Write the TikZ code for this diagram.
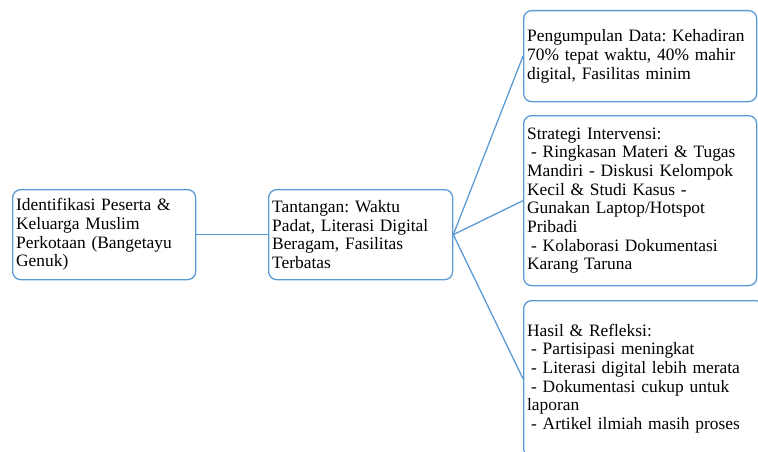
\documentclass[tikz,border=0pt]{standalone}
\usepackage{fontspec}
\setmainfont{Liberation Serif}
\frenchspacing
\definecolor{linkblue}{RGB}{91,155,213}
\newcommand{\ind}{\hspace*{4pt}}
\begin{document}
\begin{tikzpicture}[x=1pt,y=-1pt,
	box/.style={draw=linkblue, line width=1.3pt, rounded corners=8pt, anchor=north west,
		align=left, inner xsep=3.5pt, inner ysep=0pt, font=\fontsize{17.4}{18.7}\selectfont},
	link/.style={draw=linkblue, line width=1.3pt}]
	\useasboundingbox (0,0) rectangle (758,452);
	\node[box, text width=176pt, minimum height=90pt] (ident) at (12,189)
		{Identifikasi Peserta \&\\Keluarga Muslim\\Perkotaan (Bangetayu\\Genuk)};
	\node[box, text width=177pt, minimum height=90pt] (tantangan) at (268,189)
		{Tantangan: Waktu\\Padat, Literasi Digital\\Beragam, Fasilitas\\Terbatas};
	\node[box, text width=226pt, minimum height=91pt] (data) at (523,10)
		{Pengumpulan Data: Kehadiran\\70\% tepat waktu, 40\% mahir\\digital, Fasilitas minim};
	\node[box, text width=226pt, minimum height=170pt] (strategi) at (523,115)
		{Strategi Intervensi:\\\ind- Ringkasan Materi \& Tugas\\Mandiri - Diskusi Kelompok\\Kecil \& Studi Kasus -\\Gunakan Laptop/Hotspot\\Pribadi\\\ind- Kolaborasi Dokumentasi\\Karang Taruna};
	\node[box, text width=233pt, minimum height=156pt] (hasil) at (523,300)
		{Hasil \& Refleksi:\\\ind- Partisipasi meningkat\\\ind- Literasi digital lebih merata\\\ind- Dokumentasi cukup untuk\\laporan\\\ind- Artikel ilmiah masih proses};
	% connectors
	\draw[link] (ident.east) -- (tantangan.west);
	\draw[link] (tantangan.east) -- (data.west);
	\draw[link] (tantangan.east) -- (strategi.west);
	\draw[link] (tantangan.east) -- (hasil.west);
\end{tikzpicture}
\end{document}
